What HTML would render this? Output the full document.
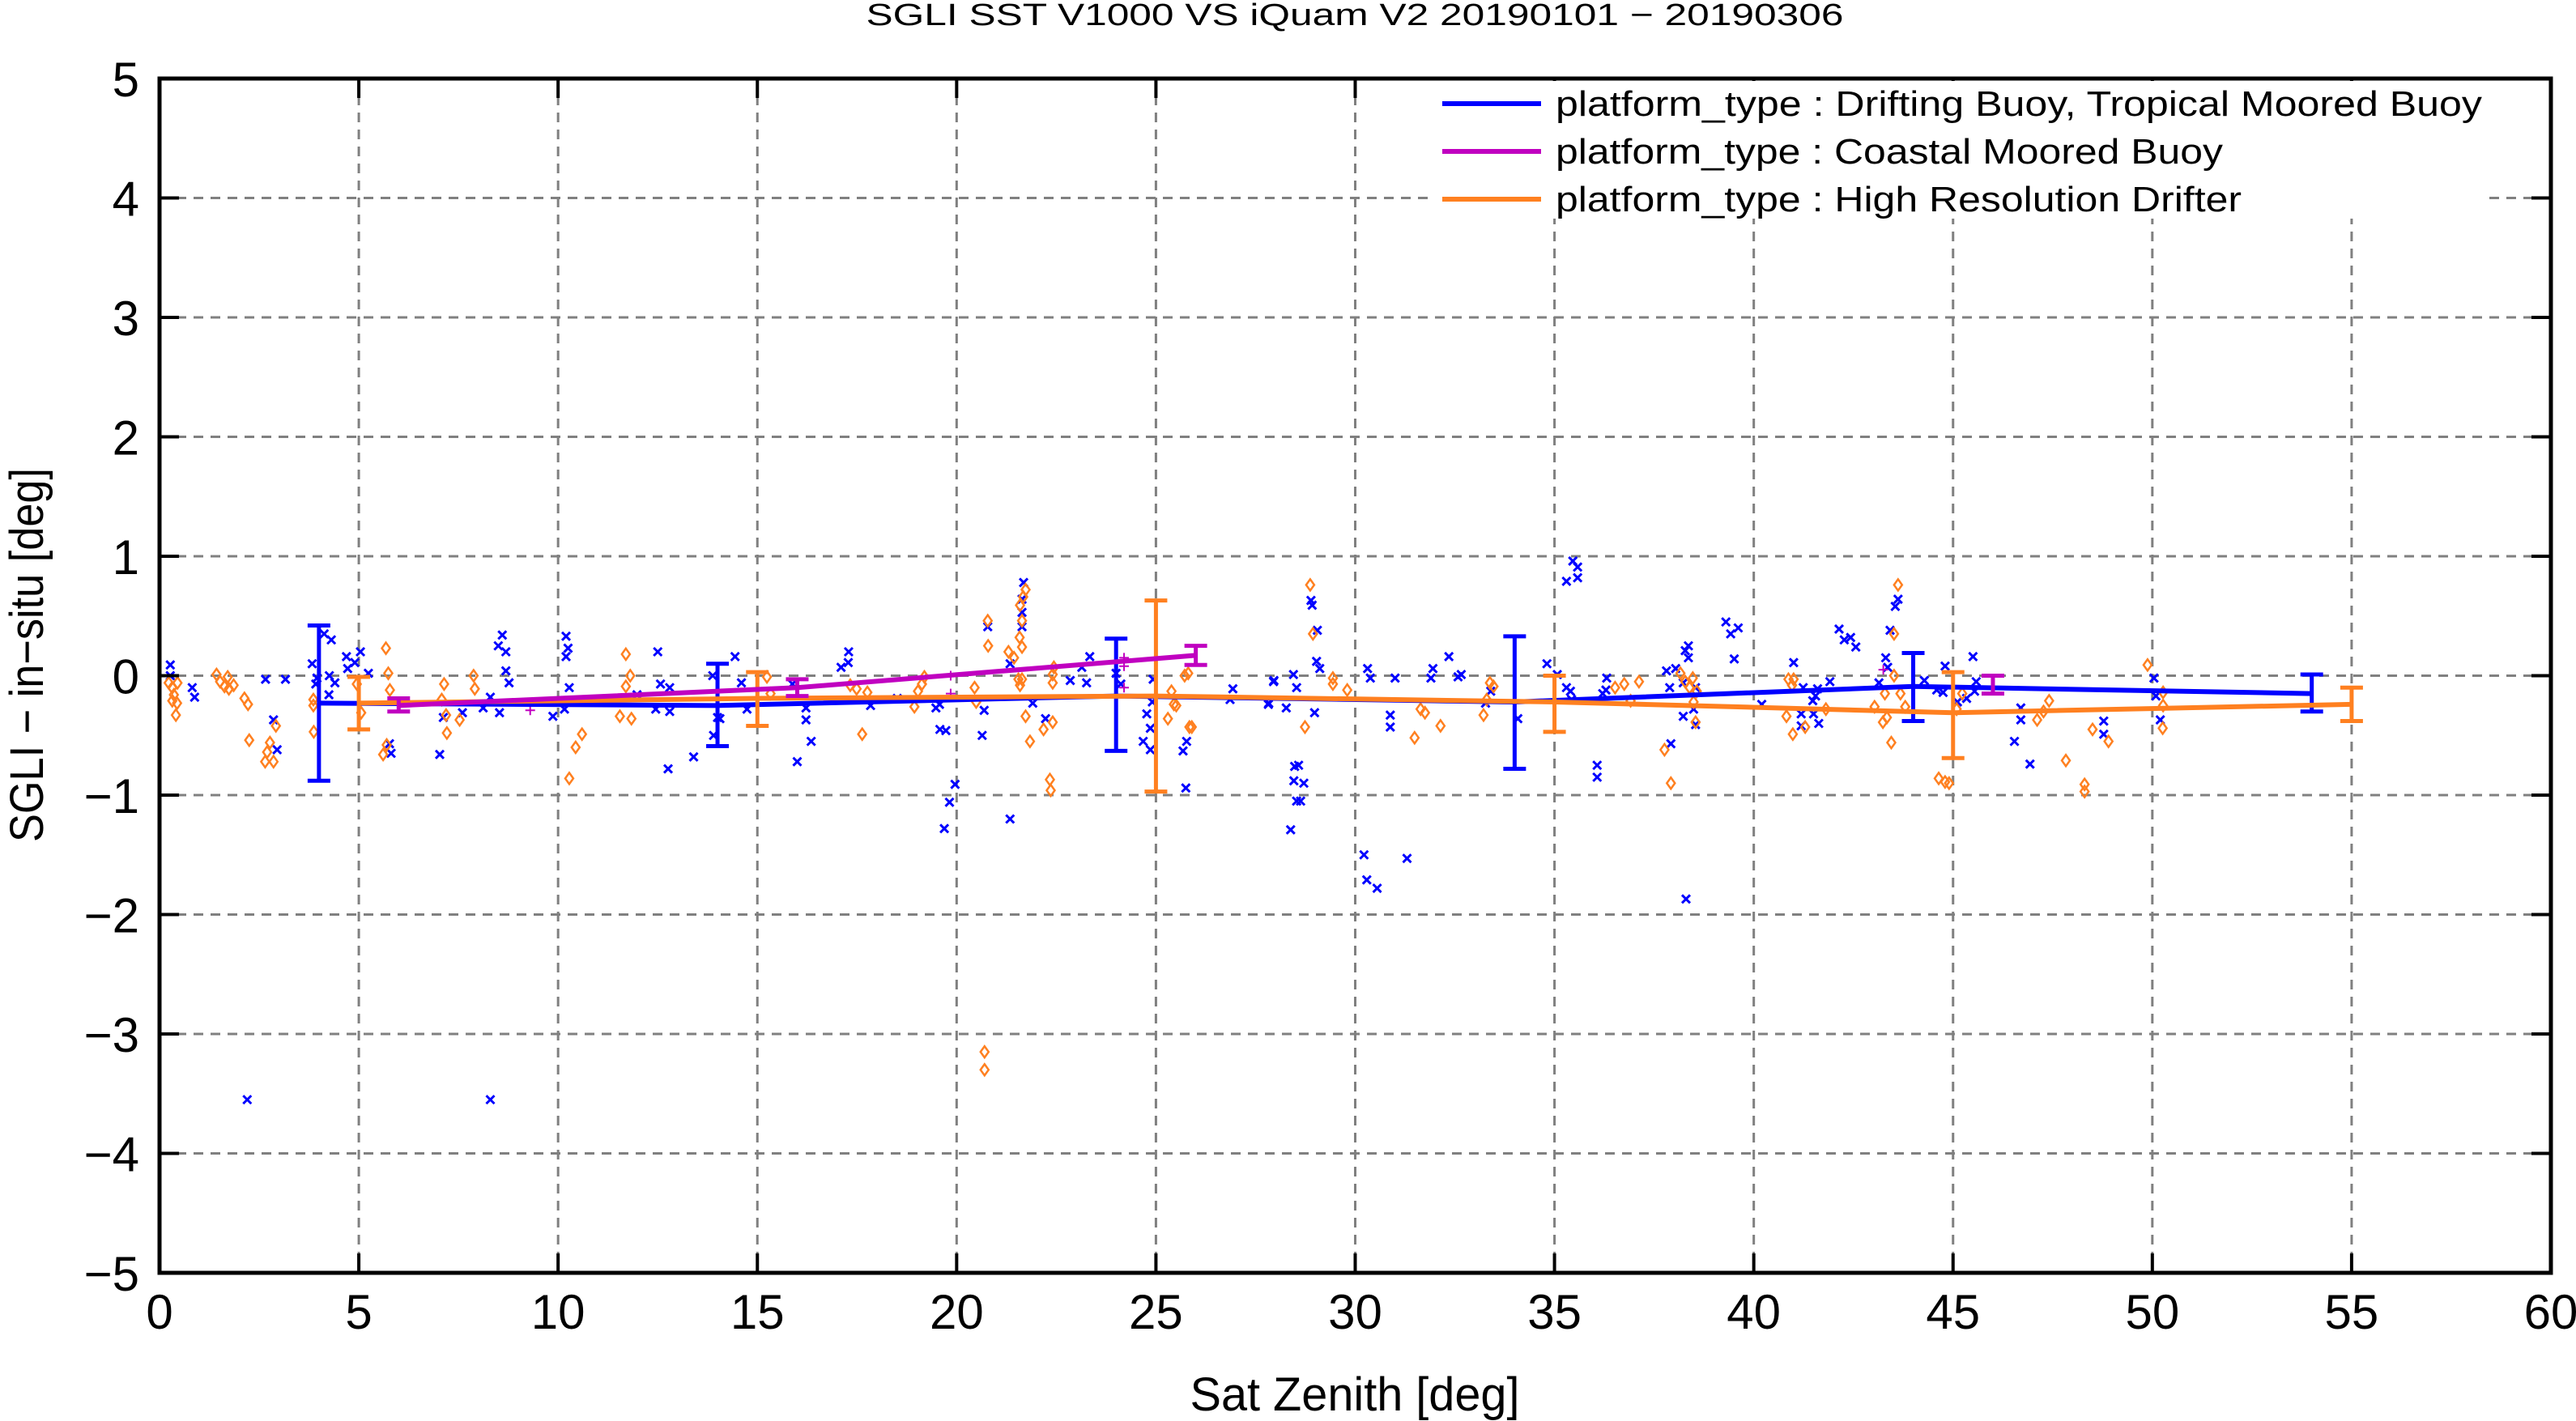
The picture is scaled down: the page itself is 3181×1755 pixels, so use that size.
<!DOCTYPE html>
<html><head><meta charset="utf-8"><title>SGLI SST vs iQuam</title>
<style>html,body{margin:0;padding:0;background:#fff;}svg{display:block;font-family:"Liberation Sans",sans-serif;}</style>
</head><body>
<svg id="chart" width="3181" height="1755" viewBox="0 0 3181 1755" xmlns="http://www.w3.org/2000/svg">
<rect x="0" y="0" width="3181" height="1755" fill="#fff"/>
<text x="1673" y="31" font-size="38" text-anchor="middle" textLength="1207" lengthAdjust="spacingAndGlyphs">SGLI SST V1000 VS iQuam V2 20190101 − 20190306</text>
<g id="grid"></g>
<g id="marks"></g>
<rect x="197" y="97" width="2953" height="1475" fill="none" stroke="#000" stroke-width="5"/>
<g id="ticks"></g>
<text x="1673" y="1742" font-size="58" text-anchor="middle" textLength="407" lengthAdjust="spacingAndGlyphs">Sat Zenith [deg]</text>
<text transform="translate(53,809) rotate(-90)" font-size="58" text-anchor="middle" textLength="462" lengthAdjust="spacingAndGlyphs">SGLI − in−situ [deg]</text>
<g id="legend">
<rect x="1770" y="100" width="1300" height="170" fill="#fff"/>
<g>
<line x1="1781" y1="128" x2="1903" y2="128" stroke="#0000ff" stroke-width="6"/>
<text x="1921" y="143" font-size="44" textLength="1144" lengthAdjust="spacingAndGlyphs">platform_type : Drifting Buoy, Tropical Moored Buoy</text></g>
<g>
<line x1="1781" y1="187" x2="1903" y2="187" stroke="#c000c0" stroke-width="6"/>
<text x="1921" y="202" font-size="44" textLength="824" lengthAdjust="spacingAndGlyphs">platform_type : Coastal Moored Buoy</text></g>
<g>
<line x1="1781" y1="246" x2="1903" y2="246" stroke="#ff8020" stroke-width="6"/>
<text x="1921" y="261" font-size="44" textLength="847" lengthAdjust="spacingAndGlyphs">platform_type : High Resolution Drifter</text></g>
</g>
</svg>
<script>
const xTicks=[0,5,10,15,20,25,30,35,40,45,50,55,60];
const yTicks=[5,4,3,2,1,0,-1,-2,-3,-4,-5];
const yTickLabels=["5","4","3","2","1","0","−1","−2","−3","−4","−5"];
// Drifting buoy scatter
const blueX=[0.27,0.27,0.82,0.88,2.2,2.66,3.16,2.86,2.95,3.83,3.95,3.92,4.13,4.31,4.69,4.9,4.72,4.4,4.25,4.26,5.04,5.24,5.77,5.81,7.03,7.12,7.6,8.3,8.12,8.53,8.6,8.5,8.69,8.69,8.77,8.3,9.87,10.2,10.25,10.2,10.28,10.16,11.98,12.5,12.57,12.8,12.45,12.8,12.76,13.4,13.88,14.0,13.9,
14.44,14.6,14.74,14.06,15.88,16.22,16.22,16.35,16.0,17.29,17.28,17.1,17.84,18.51,19.48,19.57,19.58,19.73,20.64,20.69,19.96,19.82,19.69,21.34,21.91,22.23,21.34,21.68,21.64,21.64,21.64,20.78,22.85,23.26,23.14,23.34,24.0,24.12,24.93,24.91,24.77,24.86,24.68,24.86,25.68,25.77,25.75,26.93,26.86,27.83,27.95,
27.82,27.96,28.27,28.45,28.53,28.89,28.92,29.05,29.03,29.11,28.98,28.48,28.58,28.46,28.71,28.53,28.63,28.38,30.22,30.29,30.55,31.3,30.31,30.38,31.0,30.88,30.88,31.95,31.9,32.35,32.58,32.66,33.4,33.27,34.08,34.81,35.07,35.3,35.4,35.43,35.3,35.46,35.58,35.58,36.07,36.07,36.31,36.29,36.21,37.81,38.04,37.89,38.28,38.36,38.36,38.23,38.54,38.49,38.23,38.54,37.92,38.3,39.3,39.42,39.61,39.51,40.2,41.0,41.24,41.6,41.91,41.55,41.48,41.19,41.5,41.63,41.19,42.14,42.27,42.43,42.56,43.31,43.36,43.14,43.42,43.62,43.55,
44.28,44.59,44.75,44.8,45.5,45.58,45.54,45.34,45.11,46.7,46.7,46.54,46.93,48.78,48.78,50.04,50.09,50.2];
const blueY=[0.09,0.0,-0.1,-0.18,-3.55,-0.03,-0.03,-0.37,-0.62,0.1,-0.02,-0.07,0.35,0.3,0.16,0.11,0.06,-0.06,-0.16,0.0,0.2,0.02,-0.57,-0.65,-0.66,-0.35,-0.31,-0.18,-0.27,-0.31,0.34,0.25,0.2,0.04,-0.06,-3.55,-0.34,0.33,0.23,0.16,-0.1,-0.28,-0.16,0.2,-0.07,-0.1,-0.28,-0.3,-0.78,-0.68,0.0,-0.35,-0.5,
0.16,-0.06,-0.28,-0.36,-0.07,-0.27,-0.37,-0.55,-0.72,0.2,0.11,0.07,-0.25,-0.19,-0.27,-0.24,-0.45,-0.46,-0.5,-0.29,-0.91,-1.06,-1.28,-1.2,-0.23,-0.36,0.1,0.78,0.64,0.53,0.41,0.41,-0.04,-0.06,0.07,0.16,0.02,-0.07,-0.03,-0.22,-0.32,-0.44,-0.55,-0.62,-0.63,-0.55,-0.94,-0.11,-0.2,-0.23,-0.05,
-0.24,-0.04,-0.27,0.01,-0.1,0.63,0.59,0.38,0.12,0.06,-0.31,-0.76,-0.75,-0.88,-0.9,-1.05,-1.05,-1.29,-1.5,-1.71,-1.78,-1.53,0.06,-0.02,-0.02,-0.33,-0.43,0.06,-0.02,0.16,-0.01,0.01,-0.13,-0.23,-0.36,0.1,0.01,-0.1,-0.13,-0.2,0.79,0.96,0.91,0.82,-0.75,-0.85,-0.02,-0.12,-0.15,0.04,0.06,-0.1,0.21,0.25,0.15,-0.06,-0.1,-0.28,-0.34,-0.41,-0.57,-1.87,0.45,0.35,0.4,0.14,-0.24,0.11,-0.1,-0.11,-0.05,-0.17,-0.21,-0.32,-0.32,-0.4,-0.42,0.39,0.3,0.32,0.24,0.15,0.07,-0.06,0.38,0.64,0.58,
-0.04,-0.12,-0.14,0.08,0.16,-0.05,-0.13,-0.19,-0.22,-0.27,-0.37,-0.55,-0.74,-0.38,-0.49,-0.02,-0.17,-0.37];
// High resolution drifter scatter
const orangeX=[0.23,0.32,0.45,0.36,0.32,0.44,0.41,1.43,1.52,1.71,1.63,1.86,1.74,2.13,2.22,2.25,2.77,2.7,2.65,2.86,2.92,3.86,3.86,3.87,5.68,5.74,5.78,4.95,5.06,5.7,5.61,7.14,7.08,7.19,7.21,7.53,7.88,7.91,11.7,11.81,11.7,11.55,11.84,10.6,10.44,10.28,
15.24,15.33,17.33,17.49,17.76,17.63,18.94,19.03,19.13,19.19,20.45,20.49,20.78,20.79,21.3,21.44,21.55,21.64,21.59,21.58,21.64,21.64,21.59,21.67,21.73,22.44,22.41,22.41,21.73,22.18,22.41,21.84,22.34,22.36,25.39,25.45,25.51,25.3,25.84,25.9,25.72,25.81,20.7,20.7,
28.87,28.94,29.44,29.44,29.8,28.74,31.49,31.64,31.75,32.14,33.38,33.47,33.3,33.22,36.52,36.75,37.12,36.91,38.16,38.28,38.47,38.39,38.57,38.49,38.54,37.76,37.92,40.82,40.98,41.29,40.87,41.0,40.96,41.81,43.03,43.24,43.34,43.45,43.52,43.62,43.52,43.68,43.29,43.8,
45.23,45.09,44.64,44.8,44.9,47.41,47.27,47.11,47.83,48.5,48.9,48.3,48.3,49.88,50.27,50.27,50.26];
const orangeY=[-0.06,-0.1,-0.06,-0.16,-0.21,-0.23,-0.33,0.01,-0.05,-0.01,-0.09,-0.08,-0.11,-0.19,-0.24,-0.54,-0.56,-0.64,-0.72,-0.72,-0.42,-0.2,-0.25,-0.47,0.23,0.02,-0.12,-0.07,-0.31,-0.58,-0.66,-0.07,-0.2,-0.33,-0.48,-0.37,0.0,-0.11,0.18,0.0,-0.09,-0.34,-0.36,-0.49,-0.6,-0.86,
-0.01,-0.15,-0.08,-0.11,-0.14,-0.49,-0.26,-0.13,-0.07,-0.01,-0.1,-0.22,0.46,0.25,0.2,0.15,-0.03,-0.03,-0.08,0.32,0.24,0.46,0.59,0.66,0.72,0.07,0.01,-0.06,-0.34,-0.45,-0.39,-0.55,-0.87,-0.96,-0.13,-0.24,-0.25,-0.36,-0.43,-0.43,0.0,0.02,-3.15,-3.3,
0.76,0.35,-0.02,-0.07,-0.12,-0.43,-0.52,-0.28,-0.31,-0.42,-0.06,-0.09,-0.2,-0.33,-0.1,-0.07,-0.05,-0.21,0.02,-0.05,-0.02,-0.1,-0.13,-0.22,-0.39,-0.62,-0.9,-0.34,-0.49,-0.43,-0.03,-0.03,-0.08,-0.28,-0.26,-0.39,-0.35,-0.56,0.35,0.76,0.0,-0.15,-0.15,-0.26,
-0.15,-0.28,-0.86,-0.89,-0.9,-0.21,-0.3,-0.37,-0.71,-0.45,-0.55,-0.91,-0.97,0.09,-0.14,-0.25,-0.44];
// Coastal moored buoy scatter
const magX=[9.3,19.85,19.85,24.2,24.2,24.2,43.25];
const magY=[-0.29,0.0,-0.15,0.15,0.08,-0.1,0.05];
// Bin means and error bars
const blueBinX=[4,14,24,34,44,54];
const blueMean=[-0.23,-0.25,-0.17,-0.22,-0.09,-0.15];
const blueLo=[-0.88,-0.59,-0.63,-0.78,-0.38,-0.30];
const blueHi=[0.42,0.10,0.31,0.33,0.19,0.01];
const orangeBinX=[5,15,25,35,45,55];
const orangeMean=[-0.23,-0.19,-0.17,-0.22,-0.31,-0.24];
const orangeLo=[-0.45,-0.42,-0.97,-0.47,-0.69,-0.38];
const orangeHi=[-0.01,0.03,0.63,0.0,0.03,-0.10];
const magBinX=[6,16,26,46];
const magMean=[-0.25,-0.10,0.17,-0.08];
const magLo=[-0.30,-0.17,0.09,-0.15];
const magHi=[-0.19,-0.03,0.25,0.00];
const magSegments=[[0,1,2],[3]];

const NS="http://www.w3.org/2000/svg";
const L=197,R=3150,T=97,B=1572;
const sx=v=>L+(v-0)/(60-0)*(R-L);
const sy=v=>T+(5-v)/(10)*(B-T);
function mk(tag,attrs,parent){const e=document.createElementNS(NS,tag);for(const k in attrs)e.setAttribute(k,attrs[k]);parent.appendChild(e);return e;}
const grid=document.getElementById('grid'),marks=document.getElementById('marks'),ticks=document.getElementById('ticks');
xTicks.forEach(v=>{
  if(v>0&&v<60){const g=mk('line',{x1:sx(v),x2:sx(v),y1:T,y2:B,stroke:'#808080','stroke-width':3,'stroke-dasharray':'12,9'},grid);
  
  }
  const t1=mk('line',{x1:sx(v),x2:sx(v),y1:B,y2:B-24,stroke:'#000','stroke-width':4},ticks);
  
  
  const t2=mk('line',{x1:sx(v),x2:sx(v),y1:T,y2:T+24,stroke:'#000','stroke-width':4},ticks);
  
  
  const lb=mk('text',{x:sx(v),y:1641,'font-size':60,'text-anchor':'middle'},ticks);
  lb.textContent=String(v);
  
  
});
yTicks.forEach((v,i)=>{
  if(v>-5&&v<5){const g=mk('line',{x1:L,x2:R,y1:sy(v),y2:sy(v),stroke:'#808080','stroke-width':3,'stroke-dasharray':'12,9'},grid);
  
  }
  const t1=mk('line',{x1:L,x2:L+24,y1:sy(v),y2:sy(v),stroke:'#000','stroke-width':4},ticks);
  
  
  const t2=mk('line',{x1:R,x2:R-24,y1:sy(v),y2:sy(v),stroke:'#000','stroke-width':4},ticks);
  
  
  const lb=mk('text',{x:172,y:sy(v)+22,'font-size':60,'text-anchor':'end'},ticks);
  lb.textContent=yTickLabels[i];
  
  
});
// scatter
blueX.forEach((x,i)=>{const cx=sx(x),cy=sy(blueY[i]);
  const p=mk('path',{d:`M${cx-5} ${cy-5}L${cx+5} ${cy+5}M${cx-5} ${cy+5}L${cx+5} ${cy-5}`,stroke:'#0000ff','stroke-width':3,fill:'none'},marks);
  
  });
orangeX.forEach((x,i)=>{const cx=sx(x),cy=sy(orangeY[i]);
  const p=mk('path',{d:`M${cx} ${cy-7}L${cx+5} ${cy}L${cx} ${cy+7}L${cx-5} ${cy}Z`,stroke:'#ff8020','stroke-width':2.5,fill:'none'},marks);
  
  });
magX.forEach((x,i)=>{const cx=sx(x),cy=sy(magY[i]);
  const p=mk('path',{d:`M${cx-6} ${cy}L${cx+6} ${cy}M${cx} ${cy-6}L${cx} ${cy+6}`,stroke:'#c000c0','stroke-width':2,fill:'none'},marks);
  
  });
function series(xs,m,lo,hi,col,name,segs){
  segs.forEach(s=>{if(s.length>1){const pl=mk('polyline',{points:s.map(i=>sx(xs[i])+','+sy(m[i])).join(' '),stroke:col,'stroke-width':6,fill:'none'},marks);
    
    }});
  xs.forEach((x,i)=>{const cx=sx(x);
    const e=mk('path',{d:`M${cx} ${sy(lo[i])}L${cx} ${sy(hi[i])}M${cx-14} ${sy(lo[i])}L${cx+14} ${sy(lo[i])}M${cx-14} ${sy(hi[i])}L${cx+14} ${sy(hi[i])}`,stroke:col,'stroke-width':5,fill:'none'},marks);
    
    });
}
series(blueBinX,blueMean,blueLo,blueHi,'#0000ff','drifting-buoy',[[0,1,2,3,4,5]]);
series(orangeBinX,orangeMean,orangeLo,orangeHi,'#ff8020','hr-drifter',[[0,1,2,3,4,5]]);
series(magBinX,magMean,magLo,magHi,'#c000c0','coastal-buoy',magSegments);
</script>
</body></html>
